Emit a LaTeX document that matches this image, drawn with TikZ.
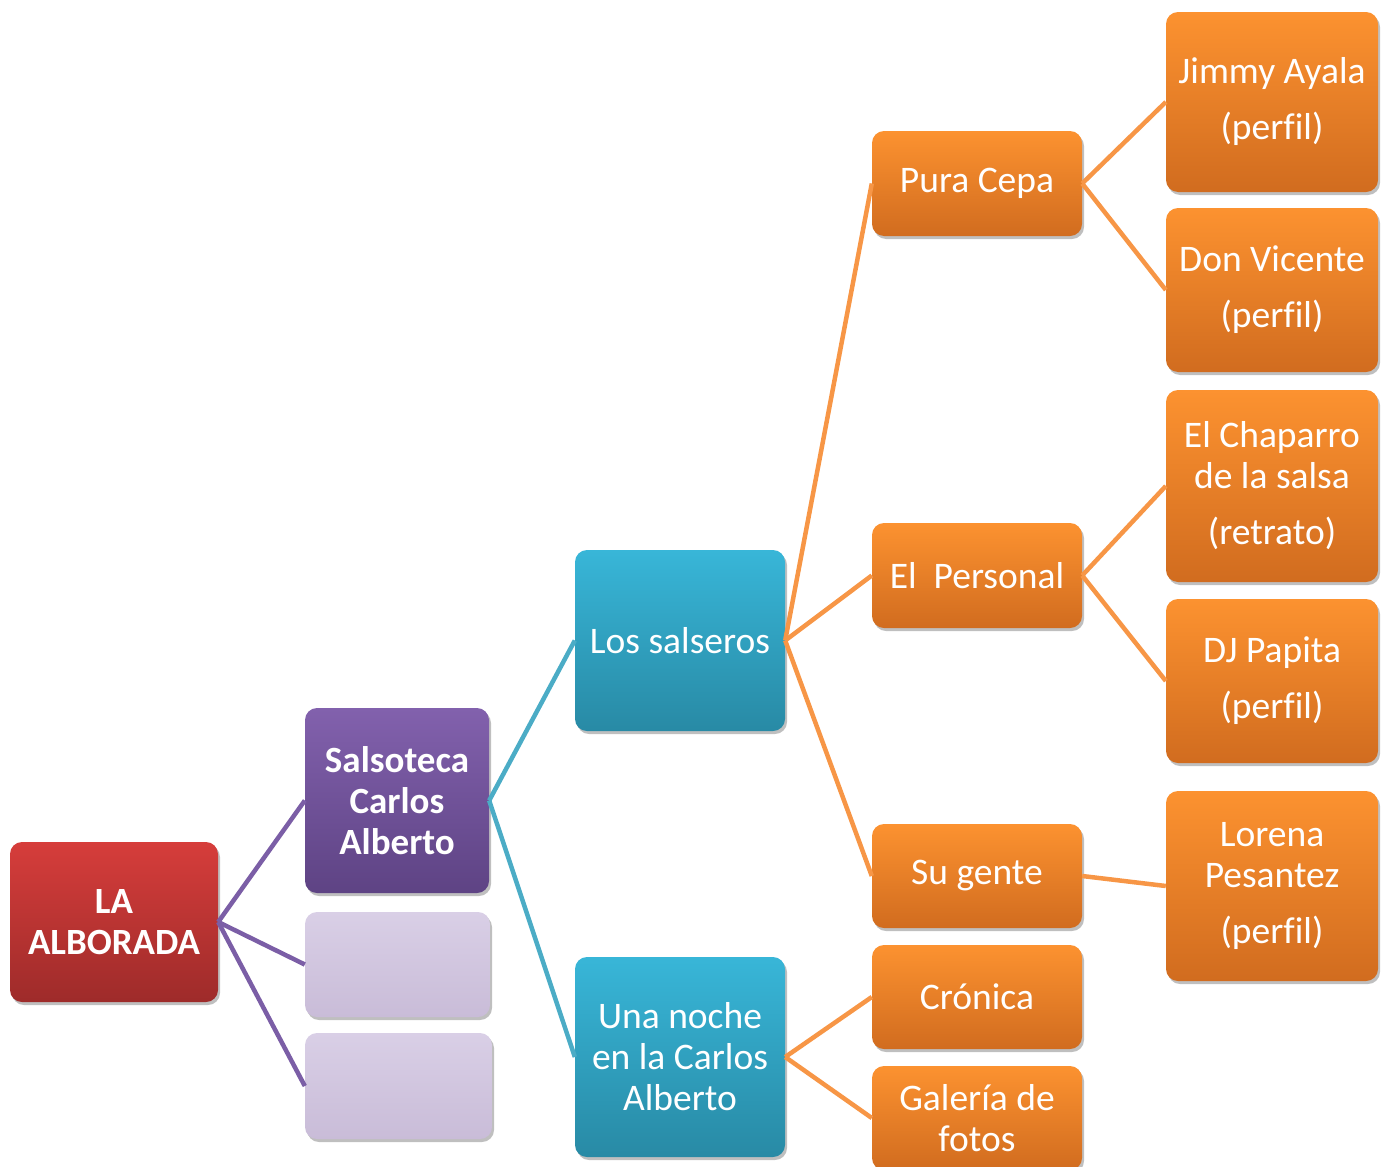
\documentclass[tikz,border=0pt]{standalone}
\usepackage{fontspec}
\setmainfont[Ligatures=NoCommon]{Carlito}
\usetikzlibrary{shadows}
\definecolor{redT}{HTML}{D63D3B}
\definecolor{redB}{HTML}{9E2B2A}
\definecolor{purT}{HTML}{8261AD}
\definecolor{purB}{HTML}{5E4384}
\definecolor{lavT}{HTML}{D9CFE6}
\definecolor{lavB}{HTML}{C9BCD8}
\definecolor{tealT}{HTML}{38B6D8}
\definecolor{tealB}{HTML}{288AA5}
\definecolor{orT}{HTML}{FC9230}
\definecolor{orB}{HTML}{D16C1F}
\definecolor{purLine}{HTML}{7B5EA6}
\definecolor{tealLine}{HTML}{4BACC6}
\definecolor{orLine}{HTML}{F79646}
\tikzset{
  box/.style={rounded corners=12pt, inner sep=0pt, align=center, text=white,
    font=\fontsize{37.5}{41}\selectfont,
    drop shadow={shadow xshift=2pt, shadow yshift=-3pt, opacity=0.25, fill=black}},
  redbox/.style={box, top color=redT, bottom color=redB, font=\bfseries\fontsize{37}{41}\selectfont},
  purbox/.style={box, top color=purT, bottom color=purB, font=\bfseries\fontsize{37}{41}\selectfont},
  lavbox/.style={box, top color=lavT, bottom color=lavB},
  tealbox/.style={box, top color=tealT, bottom color=tealB},
  orbox/.style={box, top color=orT, bottom color=orB},
  link/.style={line width=4.5pt},
}
\begin{document}
\begin{tikzpicture}[x=1pt,y=-1pt]
\clip (0,0) rectangle (1387,1167);
\useasboundingbox (0,0) rectangle (1387,1167);
% level 0
\node[redbox, minimum width=208pt, minimum height=160pt] (root) at (114,922) {LA\\ALBORADA};
% level 1
\node[purbox, minimum width=184pt, minimum height=185pt] (sal) at (397,800.5) {Salsoteca\\Carlos\\Alberto};
\node[lavbox, minimum width=185pt, minimum height=105pt] (e1) at (397.5,964.5) {};
\node[lavbox, minimum width=187pt, minimum height=106pt] (e2) at (398.5,1086) {};
% level 2
\node[tealbox, minimum width=210pt, minimum height=181pt] (los) at (680,640.5) {Los salseros};
\node[tealbox, minimum width=210pt, minimum height=200pt] (una) at (680,1057) {Una noche\\en la Carlos\\Alberto};
% level 3
\node[orbox, minimum width=210pt, minimum height=105pt] (pura) at (977,183.5) {Pura Cepa};
\node[orbox, minimum width=210pt, minimum height=105pt] (pers) at (977,575.5) {El\ \ Personal};
\node[orbox, minimum width=210pt, minimum height=104pt] (gente) at (977,876) {Su gente};
\node[orbox, minimum width=210pt, minimum height=104pt] (cron) at (977,997) {Crónica};
\node[orbox, minimum width=210pt, minimum height=104pt] (gal) at (977,1118) {Galería de\\fotos};
% level 4
\node[orbox, minimum width=212pt, minimum height=180pt] (jim) at (1272,102) {Jimmy Ayala\\[15pt](perfil)};
\node[orbox, minimum width=212pt, minimum height=164pt] (don) at (1272,290) {Don Vicente\\[15pt](perfil)};
\node[orbox, minimum width=212pt, minimum height=192pt] (chap) at (1272,486) {El Chaparro\\de la salsa\\[15pt](retrato)};
\node[orbox, minimum width=212pt, minimum height=164pt] (dj) at (1272,681) {DJ Papita\\[15pt](perfil)};
\node[orbox, minimum width=212pt, minimum height=190pt] (lor) at (1272,886) {Lorena\\Pesantez\\[15pt](perfil)};
% connectors
\draw[link, purLine] (root.east) -- (sal.west);
\draw[link, purLine] (root.east) -- (e1.west);
\draw[link, purLine] (root.east) -- (e2.west);
\draw[link, tealLine] (sal.east) -- (los.west);
\draw[link, tealLine] (sal.east) -- (una.west);
\draw[link, orLine] (los.east) -- (pura.west);
\draw[link, orLine] (los.east) -- (pers.west);
\draw[link, orLine] (los.east) -- (gente.west);
\draw[link, orLine] (una.east) -- (cron.west);
\draw[link, orLine] (una.east) -- (gal.west);
\draw[link, orLine] (pura.east) -- (jim.west);
\draw[link, orLine] (pura.east) -- (don.west);
\draw[link, orLine] (pers.east) -- (chap.west);
\draw[link, orLine] (pers.east) -- (dj.west);
\draw[link, orLine] (gente.east) -- (lor.west);
\end{tikzpicture}
\end{document}
